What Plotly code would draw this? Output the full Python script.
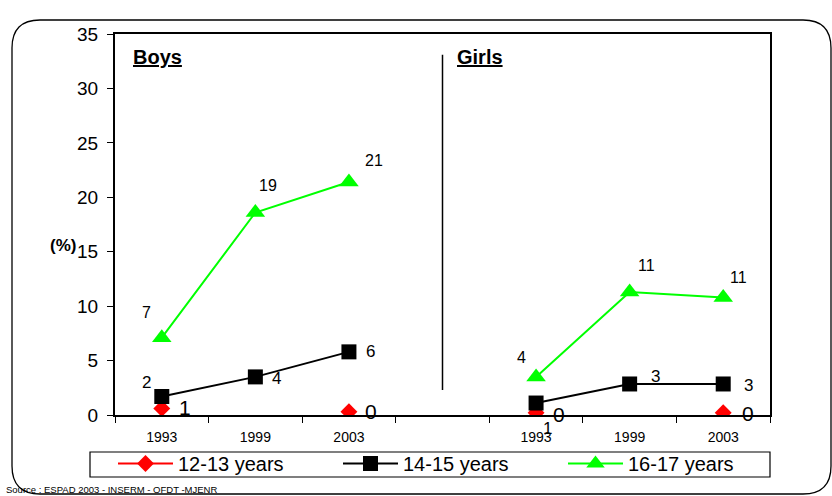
import plotly.graph_objects as go

# ---------------- data ----------------
years = ["1993", "1999", "2003"]
series_names = ["12-13 years", "14-15 years", "16-17 years"]

boys_12_13 = [0.6, None, 0.3]
boys_14_15 = [1.7, 3.5, 5.8]
boys_16_17 = [7.1, 18.6, 21.4]

girls_12_13 = [0.2, None, 0.2]
girls_14_15 = [1.1, 2.85, 2.85]
girls_16_17 = [3.5, 11.3, 10.8]

boys_labels_12_13 = ["1", None, "0"]
boys_labels_14_15 = ["2", "4", "6"]
boys_labels_16_17 = ["7", "19", "21"]
girls_labels_12_13 = ["0", None, "0"]
girls_labels_14_15 = ["1", "3", "3"]
girls_labels_16_17 = ["4", "11", "11"]

# --------------- styling --------------
FONT = "Arial, Liberation Sans, sans-serif"
colors = ["#ff0000", "#000000", "#00ff00"]
symbols = ["diamond", "square", "triangle-up"]
msizes = [13, 15, 17]

# x positions: boys at 0..2, gap at 3, girls at 4..6
boys_x = [i for i in range(len(years))]
girls_x = [i + len(years) + 1 for i in range(len(years))]

fig = go.Figure()

boys_series = [boys_12_13, boys_14_15, boys_16_17]
girls_series = [girls_12_13, girls_14_15, girls_16_17]

for k in range(3):
    for grp, (xs, ys) in enumerate([(boys_x, boys_series[k]), (girls_x, girls_series[k])]):
        fig.add_trace(go.Scatter(
            x=xs, y=ys, mode="lines+markers", name=series_names[k],
            legendgroup=series_names[k], showlegend=(grp == 0),
            line=dict(color=colors[k], width=2),
            marker=dict(symbol=symbols[k], size=msizes[k], color=colors[k]),
            connectgaps=False,
        ))

# per-label offsets (pixels) and font sizes
label_style = {
    ("b", 0): ([(23, 1), None, (22, 0)], 21),
    ("b", 1): ([(-15, 14), (21, -2), (22, 0)], 17),
    ("b", 2): ([(-15, 25), (13, 27), (25, 22)], 16),
    ("g", 0): ([(23, -2), None, (25, -1)], 21),
    ("g", 1): ([(11, -25), (26, 7), (25, -2)], 17),
    ("g", 2): ([(-15, 19), (17, 26), (15, 20)], 16),
}
boys_labels = [boys_labels_12_13, boys_labels_14_15, boys_labels_16_17]
girls_labels = [girls_labels_12_13, girls_labels_14_15, girls_labels_16_17]

for grp, xs, vals, labs in [("b", boys_x, boys_series, boys_labels), ("g", girls_x, girls_series, girls_labels)]:
    for k in range(3):
        offs, fs = label_style[(grp, k)]
        for i in range(3):
            if labs[k][i] is None or vals[k][i] is None:
                continue
            dx, dy = offs[i]
            fig.add_annotation(x=xs[i], y=vals[k][i], text=labs[k][i], showarrow=False,
                               xshift=dx, yshift=dy, font=dict(size=fs, color="black", family=FONT))

# ---- layout geometry ----
L, R, T, B = 115, 62, 34, 81
W, H = 832, 496
pw, ph = W - L - R, H - T - B

def px(xpix):
    return (xpix - L) / pw

def py(ypix):
    return (H - B - ypix) / ph

# rounded frame
x0, x1, y0, y1 = 12, 831, 20, 494
r = 28
rx, ry = r / pw, r / ph
path = (f"M {px(x0)},{py(y0) - ry} "
        f"Q {px(x0)},{py(y0)} {px(x0) + rx},{py(y0)} "
        f"L {px(x1) - rx},{py(y0)} "
        f"Q {px(x1)},{py(y0)} {px(x1)},{py(y0) - ry} "
        f"L {px(x1)},{py(y1) + ry} "
        f"Q {px(x1)},{py(y1)} {px(x1) - rx},{py(y1)} "
        f"L {px(x0) + rx},{py(y1)} "
        f"Q {px(x0)},{py(y1)} {px(x0)},{py(y1) + ry} Z")
fig.add_shape(type="path", path=path, xref="paper", yref="paper",
              line=dict(color="black", width=1.3), layer="below")

# legend box
fig.add_shape(type="rect", xref="paper", yref="paper", x0=px(90), x1=px(770), y0=py(477), y1=py(452),
              line=dict(color="black", width=1.2), fillcolor="white", layer="below")

# divider between panels
fig.add_shape(type="line", xref="x", yref="y", x0=len(years), x1=len(years), y0=2.3, y1=33.1,
              line=dict(color="black", width=1.5))

# panel titles
fig.add_annotation(xref="paper", yref="paper", x=px(131), y=py(57), xanchor="left", yanchor="middle",
                   text="<b><u>Boys</u></b>", showarrow=False, font=dict(size=20, family=FONT, color="black"))
fig.add_annotation(xref="paper", yref="paper", x=px(455), y=py(57), xanchor="left", yanchor="middle",
                   text="<b><u>Girls</u></b>", showarrow=False, font=dict(size=20, family=FONT, color="black"))
# y unit
fig.add_annotation(xref="paper", yref="paper", x=px(63), y=py(245), xanchor="center", yanchor="middle",
                   text="<b>(%)</b>", showarrow=False, font=dict(size=17, family=FONT, color="black"))
# source
fig.add_annotation(xref="paper", yref="paper", x=px(4), y=py(489), xanchor="left", yanchor="middle",
                   text="Source : ESPAD 2003 - INSERM - OFDT -MJENR", showarrow=False,
                   font=dict(size=9.5, family=FONT, color="black"))

tickvals = boys_x + girls_x
ticktext = years + years
ncat = 2 * len(years) + 1

fig.update_layout(
    width=W, height=H,
    margin=dict(l=L, r=R, t=T, b=B, autoexpand=False),
    paper_bgcolor="white", plot_bgcolor="white",
    font=dict(family=FONT, color="black"),
    xaxis=dict(range=[-0.5, ncat - 0.5], tickvals=tickvals, ticktext=ticktext,
               showgrid=False, zeroline=False, showline=True, linecolor="black", linewidth=2,
               mirror=True, ticks="", tickfont=dict(size=14, family=FONT), ticklabelstandoff=8,
               minor=dict(tickvals=[i - 0.5 for i in range(ncat + 1)], ticks="outside",
                          ticklen=6, tickcolor="black", tickwidth=1)),
    yaxis=dict(range=[0, 35], dtick=5, showgrid=False, zeroline=False, showline=True,
               linecolor="black", linewidth=2, mirror=True, ticks="outside", ticklen=6,
               tickcolor="black", tickfont=dict(size=19, family=FONT), ticklabelstandoff=5),
    legend=dict(orientation="h", x=px(113), y=py(444), xanchor="left", yanchor="top",
                borderwidth=0, bgcolor="rgba(0,0,0,0)",
                font=dict(size=20, family=FONT), entrywidth=155, entrywidthmode="pixels",
                itemwidth=55, tracegroupgap=0),
    showlegend=True,
)

fig.write_html("out.html", config={"displayModeBar": False},
               post_script="document.body.style.margin='0';document.body.style.overflow='hidden';")
